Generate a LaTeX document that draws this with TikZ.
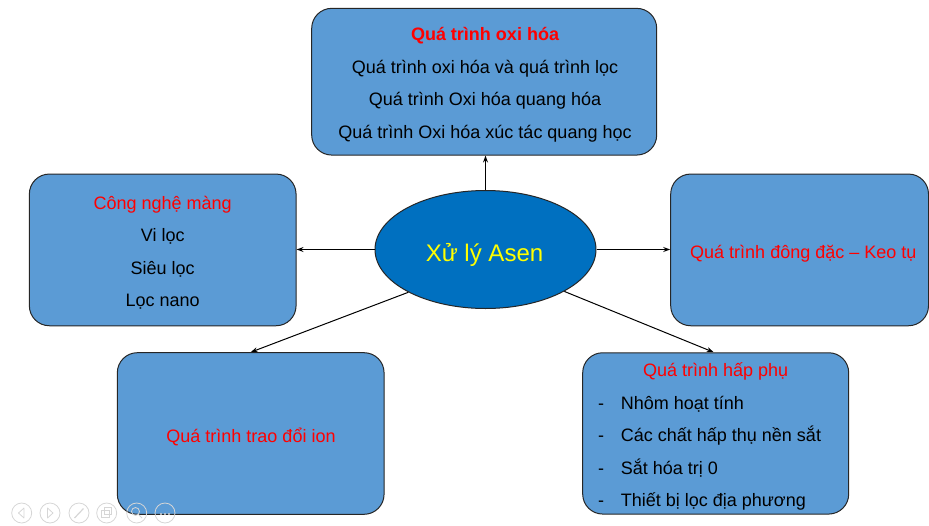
\documentclass[tikz,border=0pt]{standalone}
\usepackage{fontspec}
\setmainfont{Liberation Sans}
\usepackage{xcolor}
\usepackage{tikz}
\usetikzlibrary{arrows.meta,shapes.geometric}
\definecolor{boxblue}{HTML}{5B9BD5}
\definecolor{asenblue}{HTML}{0070C0}
\definecolor{edgegray}{HTML}{262626}
\definecolor{titlered}{HTML}{FF0000}
\definecolor{asenyellow}{HTML}{FFFF00}
\definecolor{toolgray}{HTML}{D6D6D6}

\begin{document}
\begin{tikzpicture}[x=1pt,y=-1pt,font=\fontsize{18}{22}\selectfont,
  box/.style={draw=edgegray,fill=boxblue,line width=1pt,rounded corners=20pt,inner sep=0pt},
  txt/.style={anchor=base,inner sep=0pt},
  head/.style={txt,text=titlered},
  conn/.style={-{Stealth[length=7pt,width=5pt]},line width=1pt,black}]
  \useasboundingbox (0,0) rectangle (929,525);

  % the five boxes and the centre
  \node[box,minimum width=345pt,minimum height=146.7pt] (oxihoa) at (484.2,81.7) {};
  \node[box,minimum width=266.7pt,minimum height=151.7pt] (mang) at (162.7,249.9) {};
  \node[box,minimum width=257.8pt,minimum height=151.7pt] (dongtu) at (799.6,249.9) {};
  \node[box,minimum width=266.7pt,minimum height=161.6pt] (traodoi) at (250.7,433.5) {};
  \node[box,minimum width=266pt,minimum height=161.3pt] (happhu) at (715.7,433.4) {};
  \node[ellipse,draw=edgegray,fill=asenblue,line width=1pt,inner sep=0pt,
        minimum width=221pt,minimum height=118pt] (asen) at (485.5,249.5) {};
  \node[txt,text=asenyellow,font=\fontsize{24}{28}\selectfont] (asenlbl) at (484.5,261.7) {Xử lý Asen};

  % texts
  \node[head,font=\fontsize{18}{22}\selectfont\bfseries] (oxt) at (485,40) {Quá trình oxi hóa};
  \foreach \y/\t [count=\i] in {73.3/{Quá trình oxi hóa và quá trình lọc},
      105.5/{Quá trình Oxi hóa quang hóa},138.3/{Quá trình Oxi hóa xúc tác quang học}}
    \node[txt] (ox\i) at (485,\y) {\t};

  \node[head] (mgt) at (162.7,209.3) {Công nghệ màng};
  \foreach \y/\t [count=\i] in {241.7/{Vi lọc},274.3/{Siêu lọc},306.7/{Lọc nano}}
    \node[txt] (mg\i) at (162.7,\y) {\t};

  \node[head] (dtt) at (803.3,258) {Quá trình đông đặc – Keo tụ};
  \node[head] (tdt) at (251,442.7) {Quá trình trao đổi ion};

  \node[head] (hpt) at (715.7,376.7) {Quá trình hấp phụ};
  \foreach \y/\t [count=\i] in {409.3/{Nhôm hoạt tính},441/{Các chất hấp thụ nền sắt},
      474/{Sắt hóa trị 0},506.7/{Thiết bị lọc địa phương}}
    \node[txt,anchor=base west] (hp\i) at (598,\y) {\makebox[22.7pt][l]{-}\t};

  % connectors
  \draw[conn] (asen.north) -- (asen.north |- oxihoa.south);
  \draw[conn] (asen.west) -- (asen.west -| mang.east);
  \draw[conn] (asen.east) -- (asen.east -| dongtu.west);
  \draw[conn] (asen.209) -- (traodoi.north);
  \draw[conn] (asen.332) -- ([xshift=-2pt]happhu.north);

  % slide toolbar
  \foreach \cx in {21.7,50,79,106.7,136.7,165}
    \draw[toolgray,line width=0.8pt] (\cx,513) circle[radius=10pt];
  \draw[toolgray,line width=0.8pt,line join=round] (24,508) -- (18.5,513) -- (24,518) -- cycle;
  \draw[toolgray,line width=0.8pt,line join=round] (47.5,508) -- (53,513) -- (47.5,518) -- cycle;
  \draw[toolgray,line width=1.2pt] (74.5,518) -- (83.5,508.5);
  \draw[toolgray,line width=0.8pt] (101.5,510) rectangle (109,517) (104.5,507.5) rectangle (111.5,514);
  \draw[toolgray,line width=0.8pt] (135.5,511.5) circle[radius=4pt] (138.5,514.5) -- (142,518);
  \foreach \dx in {-4,0,4}
    \fill[toolgray] (165+\dx,514) circle[radius=1.2pt];
\end{tikzpicture}
\end{document}
